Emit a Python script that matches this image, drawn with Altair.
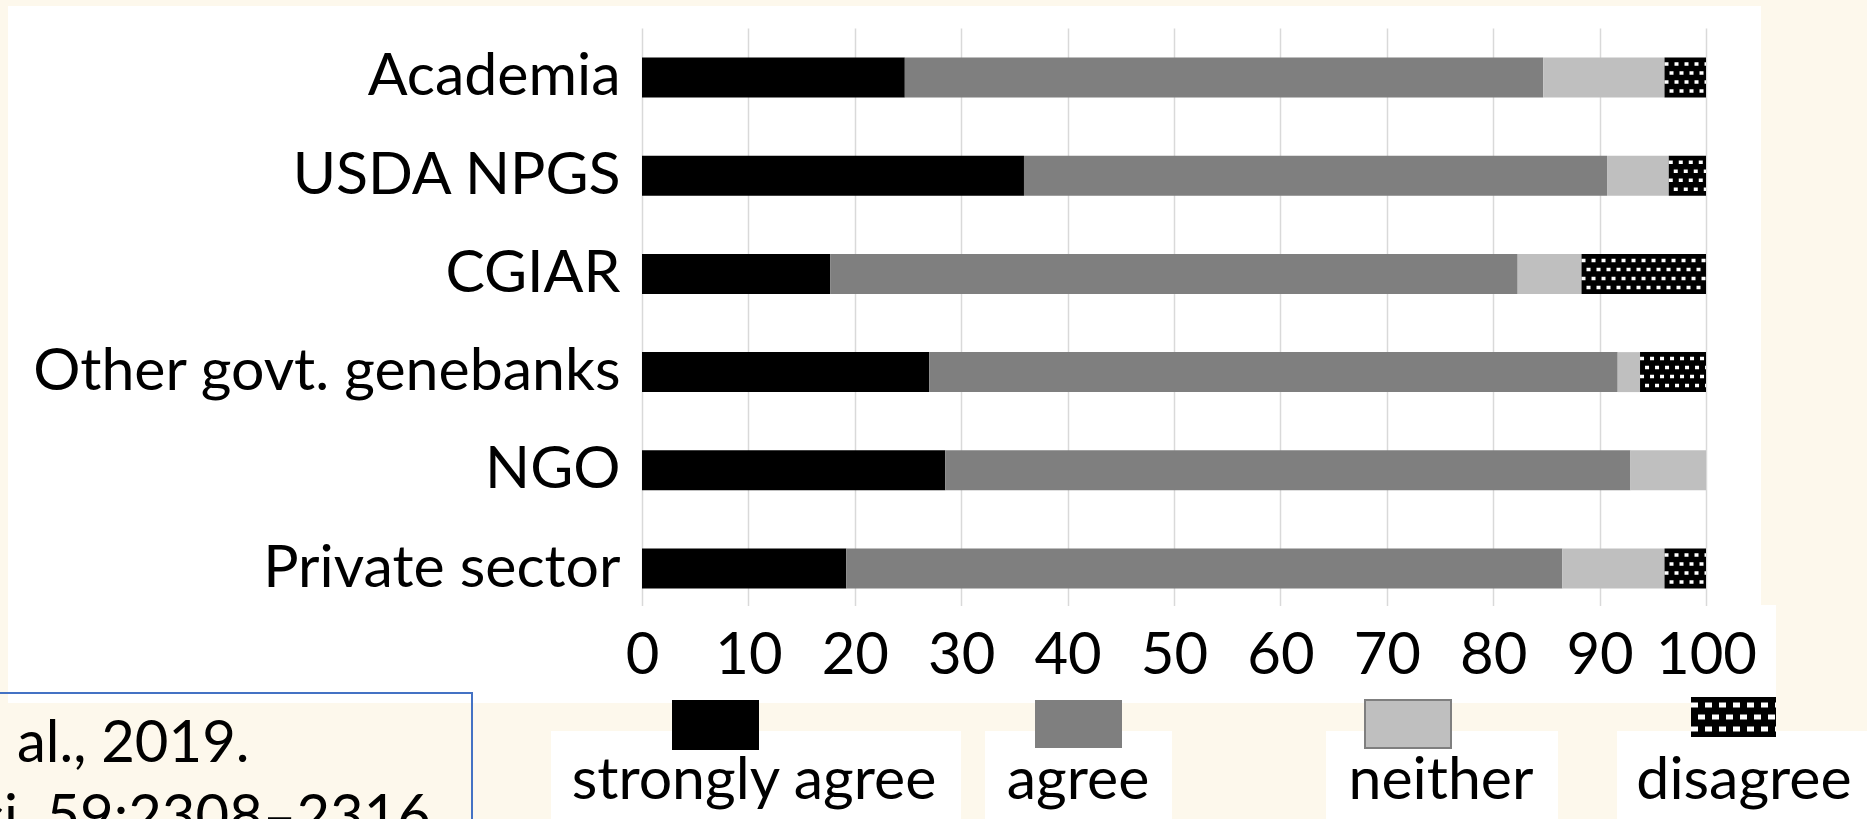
import altair as alt
import pandas as pd

# ---------------- data ----------------
ORGS = ["Academia", "USDA NPGS", "CGIAR", "Other govt. genebanks", "NGO", "Private sector"]
CATEGORIES = ["strongly agree", "agree", "neither", "disagree"]
STRONGLY_AGREE = [24.7, 35.9, 17.7, 27.0, 28.5, 19.2]
AGREE = [60.0, 54.8, 64.6, 64.7, 64.4, 67.3]
NEITHER = [11.4, 5.8, 6.0, 2.1, 7.1, 9.6]
DISAGREE = [3.9, 3.5, 11.7, 6.2, 0.0, 3.9]
X_TICKS = [0, 10, 20, 30, 40, 50, 60, 70, 80, 90, 100]
CITATION = ["al., 2019.", "Sci. 59:2308\u20132316."]

# ---------------- styles ----------------
COLORS = ["#000000", "#7F7F7F", "#BFBFBF", "#000000"]
BG = "#FDF8EC"
FONT = "Lato"
OX, OY = 642, 28          # plot origin in page pixels
W, H = 1064, 590

series = [STRONGLY_AGREE, AGREE, NEITHER, DISAGREE]
rows = []
for ci, (cat, vals) in enumerate(zip(CATEGORIES, series)):
    for org, v in zip(ORGS, vals):
        rows.append({"org": org, "cat": cat, "order": ci, "value": v})
df = pd.DataFrame(rows)

Y = alt.Y("org:N", sort=ORGS, title=None,
          scale=alt.Scale(paddingInner=0.593, paddingOuter=0.3))

stacked = alt.Chart(df).transform_stack(
    stack="value", groupby=["org"], as_=["x0", "x1"],
    sort=[alt.SortField("order", order="ascending")],
)

bars = stacked.mark_bar().encode(
    y=Y,
    x=alt.X("x0:Q", title=None, scale=alt.Scale(domain=[0, 100], nice=False),
            axis=alt.Axis(values=X_TICKS)),
    x2="x1:Q",
    color=alt.Color("cat:N", scale=alt.Scale(domain=CATEGORIES, range=COLORS), legend=None),
)

# dotted texture for the "disagree" segments
patterns = []
for i, dy in enumerate([-13.5, -4.5, 4.5, 13.5]):
    patterns.append(
        stacked.transform_filter((alt.datum.cat == "disagree") & (alt.datum.value > 0))
        .mark_rule(color="white", strokeWidth=3.5, strokeDash=[4, 6],
                   strokeDashOffset=(0 if i % 2 == 0 else 5), yOffset=dy)
        .encode(y=Y, x=alt.X("x0:Q", title=None), x2="x1:Q")
    )

one = alt.Chart(pd.DataFrame({"k": [0]}))


def rect(x1, x2, y1, y2, fill, stroke=None, sw=0):
    kw = dict(fill=fill, strokeWidth=sw)
    if stroke:
        kw["stroke"] = stroke
    return one.mark_rect(**kw).encode(
        x=alt.value(x1 - OX), x2=alt.value(x2 - OX),
        y=alt.value(y1 - OY), y2=alt.value(y2 - OY))


def text(s, x, y, size, align="left"):
    return one.mark_text(text=s, font=FONT, fontSize=size, color="black",
                         align=align, baseline="alphabetic").encode(
        x=alt.value(x - OX), y=alt.value(y - OY))


def dots(x1, x2, y, dash, off, width=3):
    return one.mark_rule(color="white", strokeWidth=width, strokeDash=dash,
                         strokeDashOffset=off).encode(
        x=alt.value(x1 - OX), x2=alt.value(x2 - OX), y=alt.value(y - OY))


# page is white; beige margins drawn around the white chart panel
frame = [
    rect(0, 1867, 0, 6, BG),
    rect(0, 8, 0, 703, BG),
    rect(1761, 1867, 0, 605, BG),
    rect(1776, 1867, 605, 703, BG),
    rect(0, 1867, 703, 819, BG),
    rect(-10, 472, 693, 840, BG, stroke="#4472C4", sw=2),
    rect(8, 471, 694, 703, "white"),
]
# hide the grid below the bar panel (label strip is a separate white box)
grid_cut = rect(634, 1716, 606, 620, "white")

# manual legend: swatch above label
LEG_CX = [754, 1078, 1441, 1744]
LEG_BOX = [(551, 961), (985, 1172), (1326, 1558), (1617, 1880)]
legend = []
for (bx1, bx2) in LEG_BOX:
    legend.append(rect(bx1, bx2, 731, 830, "white"))
legend.append(rect(672, 759, 700, 750, COLORS[0]))
legend.append(rect(1035, 1122, 700, 748, COLORS[1]))
legend.append(rect(1365, 1451, 700, 748, COLORS[2], stroke="#7F7F7F", sw=2))
legend.append(rect(1691, 1776, 697, 737, COLORS[3]))
for j, yy in enumerate([705, 717, 729]):
    legend.append(dots(1691, 1776, yy, [7, 7], 0 if j % 2 == 0 else 7, width=5))
for cat, cx in zip(CATEGORIES, LEG_CX):
    legend.append(text(cat, cx, 799, 59, align="center"))

citation = [
    text(CITATION[0], 17, 762, 58),
    text(CITATION[1], -55, 836, 58),
]

chart = alt.layer(*frame, bars, *patterns, grid_cut, *legend, *citation).properties(
    width=W, height=H,
    autosize=alt.AutoSizeParams(type="none"),
    padding={"left": OX, "top": OY, "right": 1867 - OX - W, "bottom": 819 - OY - H},
    background="white",
).configure_view(stroke=None).configure_axisX(
    labelFont=FONT, labelFontSize=58, labelColor="black", labelPadding=9,
    ticks=False, tickSize=0, domain=False, grid=True, gridColor="#D9D9D9",
    gridWidth=1.5, labelOverlap=False, labelFlush=False,
).configure_axisY(
    labelFont=FONT, labelFontSize=59, labelColor="black", labelPadding=22,
    ticks=False, tickSize=0, domain=False, grid=False, labelLimit=1000,
)

chart.save("out.html", embed_options={"renderer": "svg", "actions": False})
